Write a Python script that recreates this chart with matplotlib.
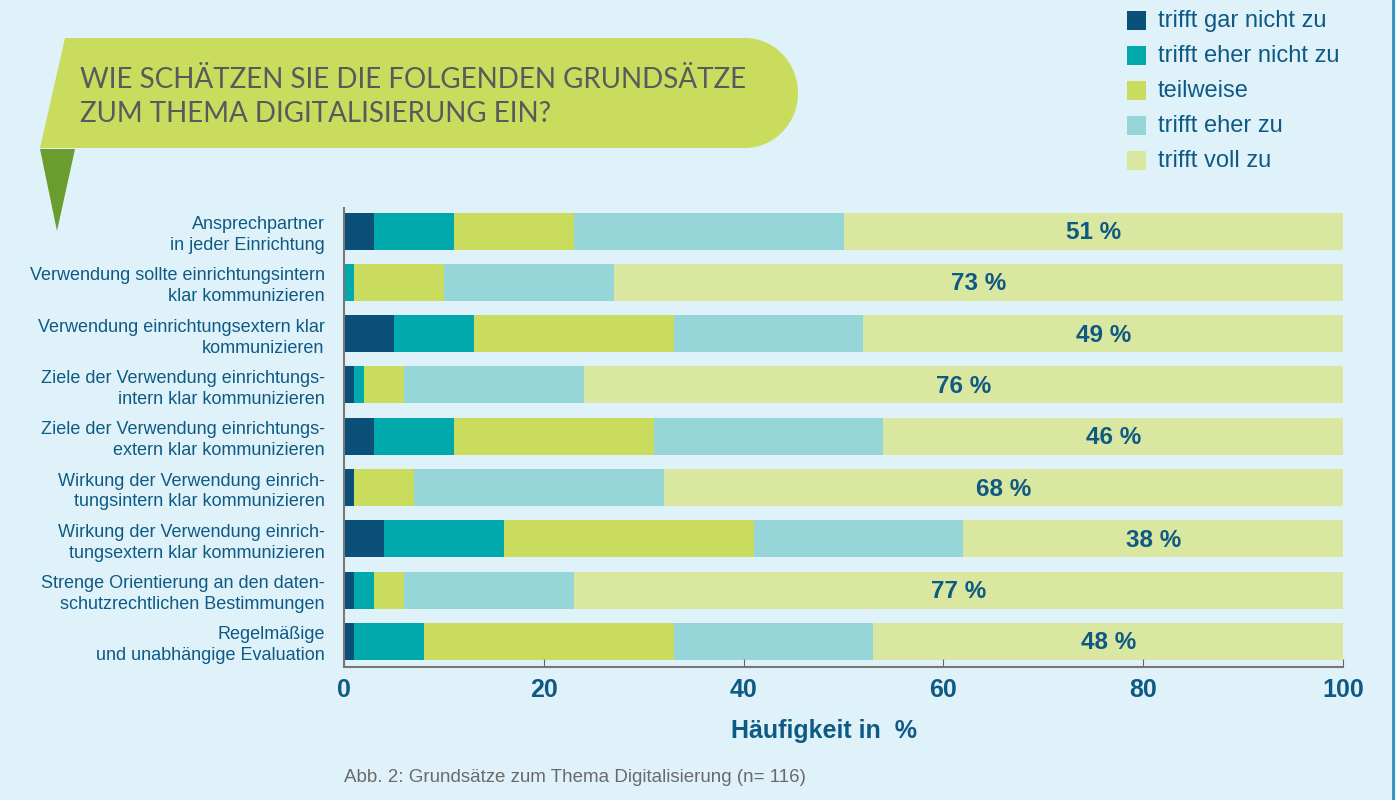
import matplotlib.pyplot as plt
import numpy as np
from matplotlib.patches import Polygon, Rectangle

categories = [
    "Ansprechpartner\nin jeder Einrichtung",
    "Verwendung sollte einrichtungsintern\nklar kommunizieren",
    "Verwendung einrichtungsextern klar\nkommunizieren",
    "Ziele der Verwendung einrichtungs-\nintern klar kommunizieren",
    "Ziele der Verwendung einrichtungs-\nextern klar kommunizieren",
    "Wirkung der Verwendung einrich-\ntungsintern klar kommunizieren",
    "Wirkung der Verwendung einrich-\ntungsextern klar kommunizieren",
    "Strenge Orientierung an den daten-\nschutzrechtlichen Bestimmungen",
    "Regelmäßige\nund unabhängige Evaluation",
]
levels = ["trifft gar nicht zu", "trifft eher nicht zu", "teilweise",
          "trifft eher zu", "trifft voll zu"]

gar_nicht = [3, 0, 5, 1, 3, 1, 4, 1, 1]
eher_nicht = [8, 1, 8, 1, 8, 0, 12, 2, 7]
teilweise = [12, 9, 20, 4, 20, 6, 25, 3, 25]
eher_zu = [27, 17, 19, 18, 23, 25, 21, 17, 20]
voll = [51, 73, 49, 76, 46, 68, 38, 77, 48]

colors = ["#0b5079", "#00aaac", "#c9dc5e", "#96d5d8", "#dae7a0"]
bg = "#dff2fa"
blue_txt = "#0f5a84"

fig = plt.figure(figsize=(13.96, 8), dpi=100)
fig.patch.set_facecolor(bg)

# banner drawn in pixel coordinates
deco = fig.add_axes([0, 0, 1, 1], zorder=0)
deco.set_xlim(0, 1396)
deco.set_ylim(800, 0)
deco.axis("off")
t = np.linspace(-np.pi / 2, np.pi / 2, 40)
arc = np.column_stack([745 + 53 * np.cos(t), 93 + 55 * np.sin(t)])
shape = np.vstack([[[65, 38]], arc, [[40, 148]]])
deco.add_patch(Polygon(shape, closed=True, fc="#c9dc5e", ec="none"))
deco.add_patch(Polygon([[40, 149], [75, 149], [57, 231]], closed=True,
                       fc="#6b9c2e", ec="none"))
for yy, line in [(80, "WIE SCHÄTZEN SIE DIE FOLGENDEN GRUNDSÄTZE"),
                 (114, "ZUM THEMA DIGITALISIERUNG EIN?")]:
    deco.text(80, yy, line, fontsize=20, color="#575b5c", fontweight="normal",
              family="Lato", va="center", ha="left")

# legend
for i, (lab, col) in enumerate(zip(levels, colors)):
    yy = 20 + 35 * i
    deco.add_patch(Rectangle((1127, yy - 9), 19, 19, fc=col, ec="none"))
    deco.text(1158, yy + 1, lab, fontsize=17, color=blue_txt,
              family="Liberation Sans", va="center", ha="left")

deco.text(344, 778, "Abb. 2: Grundsätze zum Thema Digitalisierung (n= 116)",
          fontsize=13.5, color="#6a6a6a", family="Liberation Sans",
          va="center", ha="left")
deco.plot([1393, 1393], [0, 800], color="#2f8fbf", lw=2)

ax = fig.add_axes([344 / 1396, 1 - 667 / 800, 999 / 1396, 459 / 800], zorder=1)
ax.set_facecolor("none")
y = np.arange(len(categories))
left = np.zeros(len(categories))
for vals, col in zip([gar_nicht, eher_nicht, teilweise, eher_zu, voll], colors):
    ax.barh(y, vals, left=left, height=0.72, color=col, edgecolor="none")
    left = left + np.array(vals)

start = np.array(gar_nicht) + np.array(eher_nicht) + np.array(teilweise) + np.array(eher_zu)
for yi, s, v in zip(y, start, voll):
    ax.text((s + 100) / 2, yi + 0.03, f"{v} %", ha="center", va="center",
            fontsize=17.5, fontweight="bold", color=blue_txt, family="Liberation Sans")

ax.set_xlim(0, 100)
ax.set_ylim(8.5, -0.45)
ax.set_yticks(y)
ax.set_yticklabels(categories, fontsize=13, color=blue_txt, family="Liberation Sans",
                   linespacing=1.3)
ax.tick_params(axis="y", length=0, pad=14)
ax.set_xticks([0, 20, 40, 60, 80, 100])
ax.tick_params(axis="x", direction="in", length=6, color="#666666",
               labelsize=18, labelcolor=blue_txt, pad=8)
for lab in ax.get_xticklabels():
    lab.set_fontweight("bold")
    lab.set_family("Liberation Sans")
ax.set_xlabel("Häufigkeit in  %", fontsize=18, fontweight="bold",
              color=blue_txt, family="Liberation Sans", labelpad=12)
ax.xaxis.label.set_x(0.48)
for side in ["top", "right"]:
    ax.spines[side].set_visible(False)
for side in ["left", "bottom"]:
    ax.spines[side].set_color("#777777")
    ax.spines[side].set_linewidth(1.5)

fig.savefig("out.png", dpi=100, facecolor=bg)
